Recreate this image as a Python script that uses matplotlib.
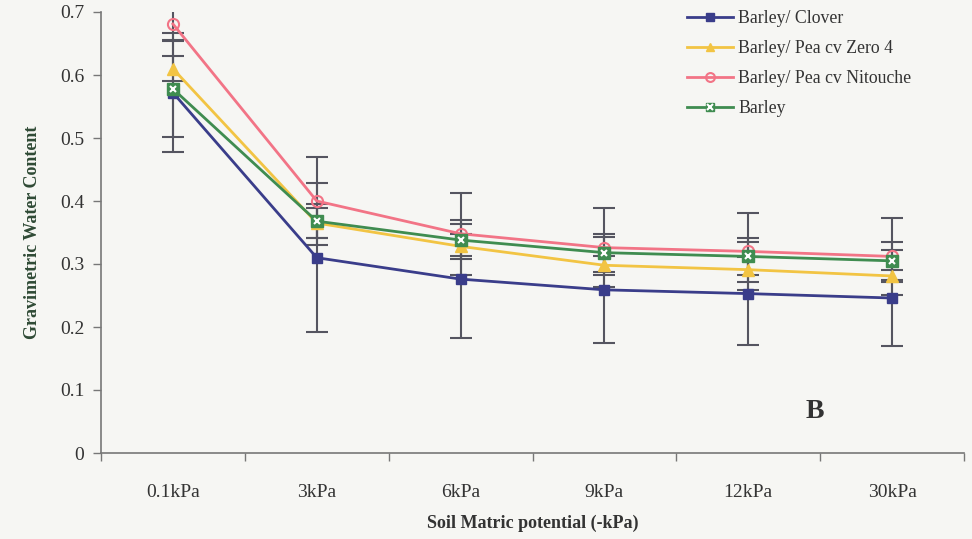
import matplotlib
matplotlib.use("Agg")
import matplotlib.pyplot as plt
from matplotlib.legend_handler import HandlerTuple
import numpy as np

categories = ["0.1kPa", "3kPa", "6kPa", "9kPa", "12kPa", "30kPa"]

clover = [0.572, 0.310, 0.276, 0.259, 0.253, 0.246]
clover_err = [0.094, 0.118, 0.094, 0.084, 0.082, 0.076]

zero4 = [0.610, 0.365, 0.328, 0.298, 0.291, 0.281]
zero4_err = [0.020, 0.024, 0.020, 0.015, 0.020, 0.010]

nitouche = [0.681, 0.400, 0.348, 0.326, 0.320, 0.312]
nitouche_err = [0.026, 0.070, 0.065, 0.063, 0.061, 0.061]

barley = [0.578, 0.368, 0.338, 0.318, 0.312, 0.305]
barley_err = [0.076, 0.027, 0.025, 0.030, 0.030, 0.030]

labels = ["Barley/ Clover", "Barley/ Pea cv Zero 4", "Barley/ Pea cv Nitouche", "Barley"]

plt.rcParams["font.family"] = ["Liberation Serif", "DejaVu Serif"]

bg = "#f6f6f3"
fig = plt.figure(figsize=(9.72, 5.39), dpi=100, facecolor=bg)
ax = fig.add_axes([101 / 972, 1 - 453 / 539, (964 - 101) / 972, (453 - 12) / 539])
ax.set_facecolor(bg)

x = np.arange(len(categories))
err_col = "#555560"

styles = [
    dict(color="#3a3d8a", marker="s", mfc="#3a3d8a", mec="#3a3d8a", ms=7),
    dict(color="#f2c443", marker="^", mfc="#f2c443", mec="#f2c443", ms=8),
    dict(color="#f27486", marker="o", mfc="none", mec="#f27486", ms=8, mew=1.5),
]

series = [(clover, clover_err), (zero4, zero4_err), (nitouche, nitouche_err), (barley, barley_err)]

# error bars first, in a neutral grey
for vals, errs in series:
    ax.errorbar(x, vals, yerr=errs, fmt="none", ecolor=err_col, elinewidth=1.5,
                capsize=8, capthick=1.5, zorder=2)

handles = []
for (vals, errs), lab, i in zip(series, labels, range(4)):
    if lab == "Barley":
        h, = ax.plot(x, vals, color="#3f8c50", lw=2, zorder=3,
                     marker="s", ms=8, mfc="#3f8c50", mec="#3f8c50")
        hx, = ax.plot(x, vals, ls="none", marker="x", ms=5, mew=1.5, color="white", zorder=4)
        handles.append((h, hx))
    else:
        h, = ax.plot(x, vals, lw=2, zorder=3, **styles[i])
        handles.append(h)

ax.set_xlim(-0.5, len(categories) - 0.5)
ax.set_ylim(0, 0.7)
ax.set_yticks(np.arange(0, 0.71, 0.1))
ax.set_yticklabels(["0", "0.1", "0.2", "0.3", "0.4", "0.5", "0.6", "0.7"])
ax.set_xticks(x)
ax.set_xticklabels(categories)
ax.set_xticks(np.arange(-0.5, len(categories), 1.0), minor=True)
ax.tick_params(axis="x", which="major", length=0, pad=22, labelsize=14, colors="#333333")
ax.tick_params(axis="x", which="minor", length=6, width=1, color="#777777", direction="out")
ax.tick_params(axis="y", length=6, width=1, color="#777777", labelsize=14, colors="#333333", pad=6)

for s in ["top", "right"]:
    ax.spines[s].set_visible(False)
for s in ["left", "bottom"]:
    ax.spines[s].set_color("#777777")
    ax.spines[s].set_linewidth(1.2)

ax.set_ylabel("Gravimetric Water Content", fontsize=13, fontweight="bold", color="#2f4a35", labelpad=14)
ax.set_xlabel("Soil Matric potential (-kPa)", fontsize=13, fontweight="bold", color="#333333", labelpad=10)

ax.text(4.4, 0.055, "B", fontsize=20, fontweight="bold", color="#333333")

leg = ax.legend(handles=handles, labels=labels, loc="upper left", bbox_to_anchor=(0.66, 1.04),
                frameon=False, fontsize=12.8, handlelength=2.6, labelspacing=0.72,
                handletextpad=0.3, markerscale=0.8,
                handler_map={tuple: HandlerTuple(ndivide=1, pad=0)})
for t in leg.get_texts():
    t.set_color("#333333")

fig.savefig("out.png", dpi=100, facecolor=bg)
